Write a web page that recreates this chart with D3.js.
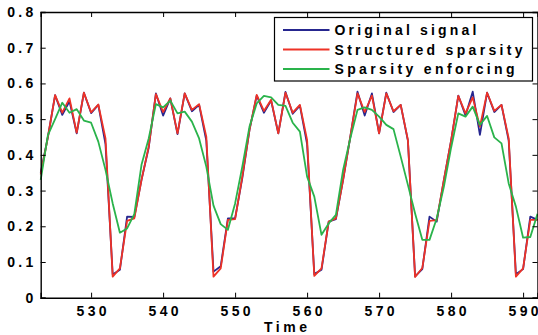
<!DOCTYPE html>
<html>
<head>
<meta charset="utf-8">
<script src="https://d3js.org/d3.v7.min.js"></script>
<style>
html,body{margin:0;padding:0;background:#fff;}
svg{display:block;}
text{font-family:"Liberation Sans",Arial,sans-serif;font-weight:bold;fill:#000;}
</style>
</head>
<body>
<svg id="chart" width="538" height="335"></svg>
<script>
const times = d3.range(523, 593);
const originalSignal = [0.35,0.45,0.567,0.512,0.55,0.46,0.574,0.517,0.54,0.43,0.065,0.078,0.227,0.226,0.33,0.42,0.572,0.51,0.558,0.458,0.572,0.522,0.54,0.44,0.073,0.088,0.222,0.222,0.335,0.47,0.566,0.518,0.552,0.46,0.576,0.515,0.538,0.43,0.066,0.078,0.213,0.22,0.33,0.45,0.577,0.51,0.572,0.46,0.574,0.52,0.54,0.44,0.06,0.08,0.227,0.213,0.33,0.44,0.566,0.51,0.577,0.456,0.574,0.52,0.54,0.44,0.066,0.08,0.227,0.218];
const structuredSparsity = [0.345,0.45,0.567,0.518,0.558,0.462,0.574,0.519,0.541,0.446,0.059,0.082,0.215,0.222,0.33,0.423,0.57,0.52,0.558,0.46,0.572,0.526,0.542,0.451,0.059,0.082,0.218,0.22,0.339,0.47,0.568,0.523,0.554,0.46,0.574,0.518,0.54,0.442,0.061,0.082,0.213,0.222,0.33,0.451,0.572,0.52,0.566,0.46,0.572,0.522,0.54,0.442,0.058,0.083,0.215,0.217,0.33,0.44,0.565,0.516,0.561,0.479,0.574,0.523,0.54,0.446,0.059,0.082,0.218,0.218];
const sparsityEnforcing = [0.33,0.455,0.5,0.546,0.518,0.528,0.496,0.49,0.437,0.358,0.264,0.182,0.194,0.234,0.372,0.446,0.542,0.533,0.552,0.516,0.521,0.493,0.446,0.367,0.258,0.206,0.19,0.264,0.367,0.479,0.544,0.565,0.561,0.54,0.537,0.49,0.465,0.339,0.283,0.176,0.208,0.232,0.358,0.446,0.526,0.533,0.526,0.507,0.484,0.472,0.395,0.316,0.236,0.162,0.162,0.222,0.311,0.42,0.516,0.507,0.535,0.484,0.509,0.449,0.432,0.32,0.255,0.168,0.17,0.235];
const seriesNames = ["Original signal","Structured sparsity","Sparsity enforcing"];
const seriesColors = ["#26268f","#ee3226","#2ab34b"];
const xTicks = [530,540,550,560,570,580,590];
const yTicks = [0,0.1,0.2,0.3,0.4,0.5,0.6,0.7,0.8];
const xLabel = "Time";

const svg = d3.select("#chart");
const L = 40.7, R = 537.5, T = 12, B = 297.7;
const x = d3.scaleLinear().domain([523, 592]).range([L, R]);
const y = d3.scaleLinear().domain([0, 0.8]).range([B, T]);

const plot = svg.append("g");
const series = [originalSignal, structuredSparsity, sparsityEnforcing];
const line = d3.line().x((d,i)=>x(times[i])).y(d=>y(d));
series.forEach((s,k)=>{
  plot.append("path").datum(s).attr("d", line)
    .attr("fill","none").attr("stroke",seriesColors[k]).attr("stroke-width",1.8)
    .attr("stroke-linejoin","round");
});

const FS = "14px";
const tl = 5;
const gx = svg.append("g").attr("transform",`translate(0,${B})`)
  .call(d3.axisBottom(x).tickValues(xTicks).tickSize(-tl).tickPadding(8).tickFormat(d3.format("d")));
const gxt = svg.append("g").attr("transform",`translate(0,${T})`)
  .call(d3.axisTop(x).tickValues(xTicks).tickSize(-tl).tickFormat(""));
const gy = svg.append("g").attr("transform",`translate(${L},0)`)
  .call(d3.axisLeft(y).tickValues(yTicks).tickSize(-tl).tickPadding(7).tickFormat(d=>d===0?"0":d3.format(".1f")(d)));
const gyr = svg.append("g").attr("transform",`translate(${R},0)`)
  .call(d3.axisRight(y).tickValues(yTicks).tickSize(-tl).tickFormat(""));
[gx,gxt,gy,gyr].forEach(g=>{
  g.select(".domain").attr("stroke","#000").attr("stroke-width",1.4);
  g.selectAll(".tick line").attr("stroke","#000").attr("stroke-width",1);
  g.selectAll("text").style("font-size",FS)
    .style("font-family","'Liberation Sans',Arial,sans-serif").style("font-weight","bold").attr("fill","#000");
});
gx.selectAll(".tick text").attr("textLength",30).attr("lengthAdjust","spacing");
gy.selectAll(".tick text").filter(d=>d!==0).attr("textLength",26).attr("lengthAdjust","spacing");
gy.selectAll(".tick text").attr("dx","-0.5px");

svg.append("text").attr("x",285.5).attr("y",331.5).attr("text-anchor","middle")
  .attr("textLength",43).attr("lengthAdjust","spacing")
  .style("font-size",FS).text(xLabel);

// legend
const lg = svg.append("g");
lg.append("rect").attr("x",274.5).attr("y",17.5).attr("width",258).attr("height",63.5)
  .attr("fill","#fff").attr("stroke","#000").attr("stroke-width",1.2);
const rowsY = [30,49.5,69];
const textLen = [142,188,180];
seriesNames.forEach((n,k)=>{
  lg.append("line").attr("x1",283).attr("x2",329.5).attr("y1",rowsY[k]).attr("y2",rowsY[k])
    .attr("stroke",seriesColors[k]).attr("stroke-width",1.8);
  lg.append("text").attr("x",334.5).attr("y",rowsY[k]+5)
    .attr("textLength",textLen[k]).attr("lengthAdjust","spacing")
    .style("font-size",FS).text(n);
});
</script>
</body>
</html>
